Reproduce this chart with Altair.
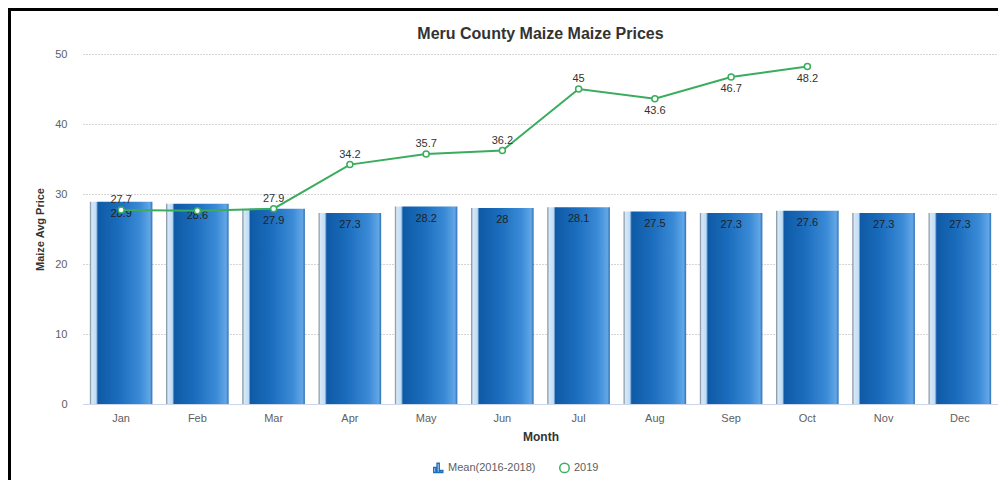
import altair as alt
import pandas as pd

months = ["Jan", "Feb", "Mar", "Apr", "May", "Jun", "Jul", "Aug", "Sep", "Oct", "Nov", "Dec"]
mean_vals = [28.9, 28.6, 27.9, 27.3, 28.2, 28, 28.1, 27.5, 27.3, 27.6, 27.3, 27.3]
vals_2019 = [27.7, 27.6, 27.9, 34.2, 35.7, 36.2, 45, 43.6, 46.7, 48.2, None, None]
series = ["Mean(2016-2018)", "2019"]
series_colors = ["#1f6fbf", "#3aac5e"]
labels_below = ["Aug", "Sep", "Oct"]
labels_hidden = ["Feb"]

bars = pd.DataFrame({"Month": months, "value": mean_vals, "series": series[0]})
line = pd.DataFrame({"Month": months, "value": vals_2019, "series": series[1]}).dropna()

FONT = "Liberation Sans"
x_enc = alt.X("Month:N", sort=months, title="Month",
              scale=alt.Scale(paddingInner=0.18, paddingOuter=0.09))
y_enc = alt.Y("value:Q", title="Maize Avg Price",
              scale=alt.Scale(domain=[0, 50], nice=False),
              axis=alt.Axis(values=[0, 10, 20, 30, 40, 50]))

grad = alt.LinearGradient(
    gradient="linear", x1=0, x2=1, y1=0, y2=0,
    stops=[
        alt.GradientStop(color="#6f7f8f", offset=0),
        alt.GradientStop(color="#d6e8f8", offset=0.03),
        alt.GradientStop(color="#c0dcf4", offset=0.1),
        alt.GradientStop(color="#0f5aa6", offset=0.13),
        alt.GradientStop(color="#1a6cbc", offset=0.45),
        alt.GradientStop(color="#3a8ad6", offset=0.8),
        alt.GradientStop(color="#62a6e6", offset=0.96),
        alt.GradientStop(color="#2d6fb4", offset=1),
    ],
)

bar_layer = alt.Chart(bars).mark_bar(fill=grad).encode(x=x_enc, y=y_enc)

bar_text = alt.Chart(bars).mark_text(
    baseline="top", dy=6, fontSize=11, font=FONT, color="#222222"
).encode(x=alt.X("Month:N", sort=months), y="value:Q", text=alt.Text("value:Q"))

color_scale = alt.Scale(domain=series, range=series_colors)
bar_path = ("M-1,1 L-1,-0.1 L-0.55,-0.1 L-0.55,1 Z "
            "M-0.3,1 L-0.3,-1 L0.15,-1 L0.15,1 Z "
            "M0.45,1 L0.45,0.55 L0.9,0.55 L0.9,1 Z")
shape_scale = alt.Scale(domain=series, range=[bar_path, "circle"])

line_layer = alt.Chart(line).mark_line(strokeWidth=2).encode(
    x=alt.X("Month:N", sort=months), y="value:Q",
    color=alt.Color("series:N", scale=color_scale),
)

point_layer = alt.Chart(line).mark_point(
    filled=False, fill="white", fillOpacity=1, size=36, strokeWidth=1.5, opacity=1
).encode(
    x=alt.X("Month:N", sort=months), y="value:Q",
    color=alt.Color("series:N", scale=color_scale, legend=alt.Legend(title=None)),
    shape=alt.Shape("series:N", scale=shape_scale, legend=alt.Legend(title=None)),
)

above_text = alt.Chart(line).transform_filter(
    ~alt.FieldOneOfPredicate(field="Month", oneOf=labels_below + labels_hidden)
).mark_text(baseline="bottom", dy=-5, fontSize=11, font=FONT, color="#333333").encode(
    x=alt.X("Month:N", sort=months), y="value:Q", text=alt.Text("value:Q"))

below_text = alt.Chart(line).transform_filter(
    alt.FieldOneOfPredicate(field="Month", oneOf=labels_below)
).mark_text(baseline="top", dy=6, fontSize=11, font=FONT, color="#333333").encode(
    x=alt.X("Month:N", sort=months), y="value:Q", text=alt.Text("value:Q"))

frame_left = alt.Chart(bars).mark_rule(color="#000000", strokeWidth=3).encode(
    x=alt.value(-74), y=alt.value(-45), y2=alt.value(430))
frame_top = alt.Chart(bars).mark_rule(color="#000000", strokeWidth=3).encode(
    x=alt.value(-75), x2=alt.value(920), y=alt.value(-44.5))

chart = alt.layer(
    bar_layer, bar_text, line_layer, point_layer, above_text, below_text,
    frame_left, frame_top
).resolve_scale(color="shared", shape="shared").properties(
    width=915, height=350,
    title=alt.TitleParams("Meru County Maize Maize Prices", fontSize=16, font=FONT,
                          fontWeight="bold", color="#333333", offset=-34, anchor="middle",
                          frame="group"),
    autosize=alt.AutoSizeParams(type="none"),
    padding={"left": 75, "top": 46, "right": 0, "bottom": 76},
).configure_view(stroke=None).configure_axisX(
    labelAngle=0, labelFont=FONT, labelFontSize=11, labelColor="#606060",
    titleFont=FONT, titleFontSize=12, titleColor="#333333", titleFontWeight="bold",
    titlePadding=8, domainColor="#ccd6eb", ticks=False, grid=False, labelPadding=8,
).configure_axisY(
    labelFont=FONT, labelFontSize=11, labelColor="#606060",
    titleFont=FONT, titleFontSize=11, titleColor="#333333", titleFontWeight="bold",
    titlePadding=9, domain=False, ticks=False, labelPadding=16,
    gridColor="#aaaaaa", gridDash=[1, 2], gridWidth=1,
).configure_legend(
    orient="none", legendX=350, legendY=408, direction="horizontal",
    labelFont=FONT, labelFontSize=11,
    labelColor="#606060", symbolSize=90, symbolStrokeWidth=1.5, columnPadding=20,
)

chart.save("out.html", embed_options={"renderer": "svg", "actions": False})
